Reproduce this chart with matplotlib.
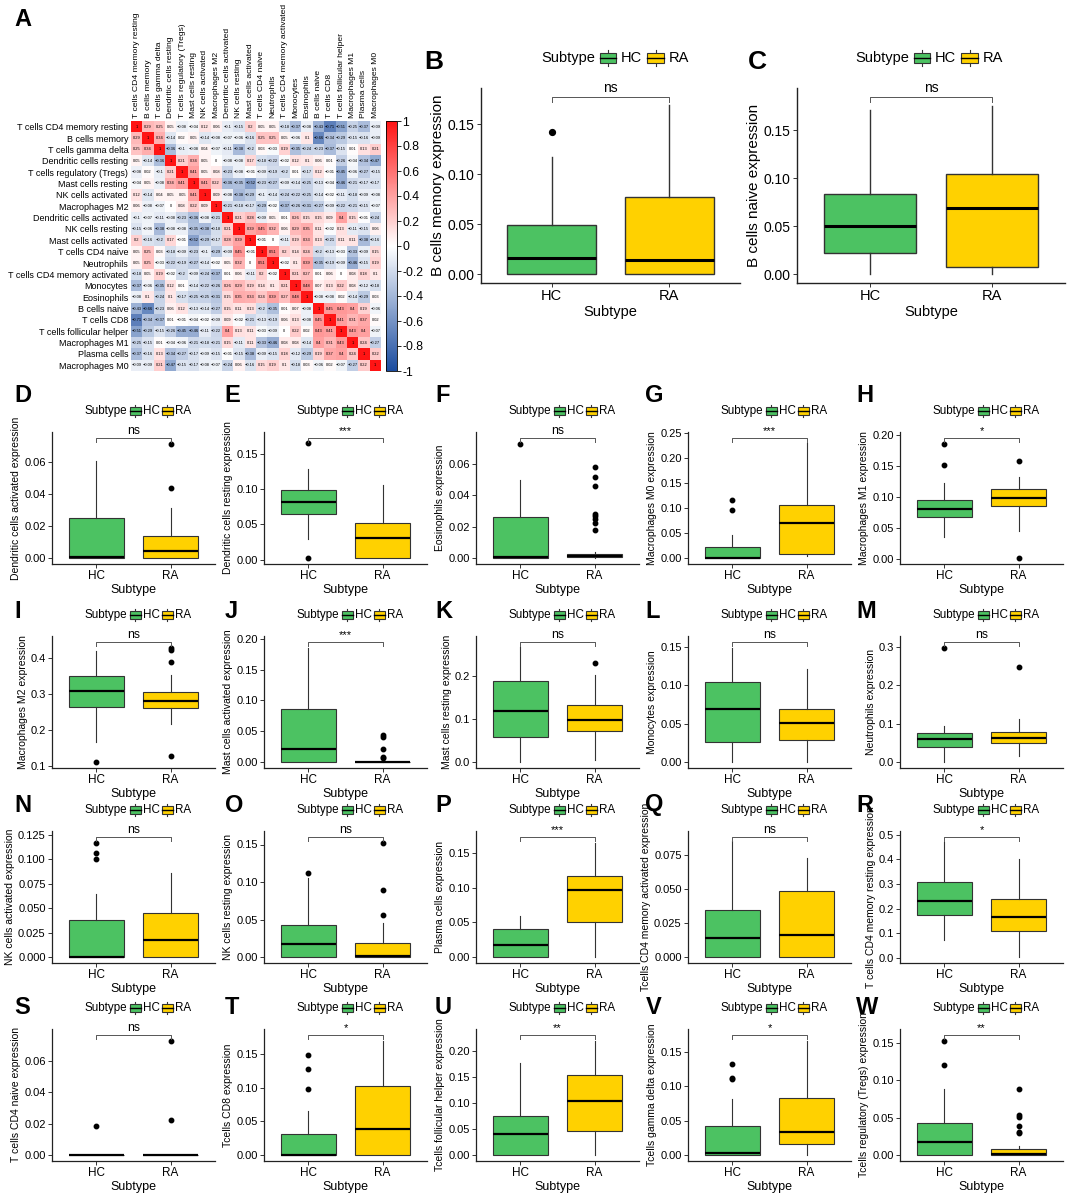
import numpy as np
import matplotlib
matplotlib.use("Agg")
import matplotlib.pyplot as plt
from matplotlib.colors import LinearSegmentedColormap
from matplotlib.offsetbox import HPacker, TextArea, DrawingArea, AnchoredOffsetbox
from matplotlib.patches import Rectangle
from matplotlib.lines import Line2D

plt.rcParams['font.family'] = ['Liberation Sans', 'DejaVu Sans']

# ---------------- data: correlation heatmap (panel A) ----------------
cells = ["T cells CD4 memory resting", "B cells memory", "T cells gamma delta",
         "Dendritic cells resting", "T cells regulatory (Tregs)", "Mast cells resting",
         "NK cells activated", "Macrophages M2", "Dendritic cells activated",
         "NK cells resting", "Mast cells activated", "T cells CD4 naive", "Neutrophils",
         "T cells CD4 memory activated", "Monocytes", "Eosinophils", "B cells naive",
         "T cells CD8", "T cells follicular helper", "Macrophages M1", "Plasma cells",
         "Macrophages M0"]

corr = [
    [1, 0.29, 0.25, 0.05, -0.08, -0.04, 0.12, 0.06, -0.1, -0.15, 0.2, 0.05, 0.05, -0.18, -0.37, -0.08, -0.43, -0.71, -0.51, -0.25, -0.37, -0.09],
    [0.29, 1, 0.34, -0.14, 0.02, 0.05, -0.14, -0.08, -0.07, -0.06, -0.16, 0.25, 0.25, 0.05, -0.06, 0.1, -0.66, -0.34, -0.29, -0.15, -0.16, -0.09],
    [0.25, 0.34, 1, -0.36, -0.1, -0.08, 0.04, -0.07, -0.11, -0.38, -0.2, 0.03, -0.03, 0.19, -0.35, -0.24, -0.23, -0.37, -0.15, 0.01, 0.13, 0.21],
    [0.05, -0.14, -0.36, 1, 0.21, 0.34, 0.05, 0, -0.08, -0.08, 0.17, -0.18, -0.22, -0.02, 0.12, 0.1, 0.06, 0.01, -0.26, -0.04, -0.34, -0.47],
    [-0.08, 0.02, -0.1, 0.21, 1, 0.41, 0.05, 0.08, -0.23, -0.08, -0.01, -0.09, -0.19, -0.2, 0.01, -0.17, 0.12, -0.01, -0.45, -0.06, -0.27, -0.15],
    [-0.04, 0.05, -0.08, 0.34, 0.41, 1, 0.41, 0.22, -0.36, -0.35, -0.52, -0.23, -0.27, -0.09, -0.14, -0.25, -0.13, -0.04, -0.46, -0.21, -0.17, -0.17],
    [0.12, -0.14, 0.04, 0.05, 0.05, 0.41, 1, 0.09, -0.08, -0.38, -0.29, -0.1, -0.14, -0.24, -0.22, -0.25, -0.14, -0.02, -0.11, -0.18, -0.09, -0.08],
    [0.06, -0.08, -0.07, 0, 0.08, 0.22, 0.09, 1, -0.21, -0.18, -0.17, -0.29, -0.02, -0.37, -0.26, -0.31, -0.27, -0.09, -0.22, -0.21, -0.15, -0.07],
    [-0.1, -0.07, -0.11, -0.08, -0.23, -0.36, -0.08, -0.21, 1, 0.21, 0.28, -0.09, 0.05, 0.01, 0.26, 0.15, 0.15, 0.09, 0.4, 0.15, -0.01, -0.24],
    [-0.15, -0.06, -0.38, -0.08, -0.08, -0.35, -0.38, -0.18, 0.21, 1, 0.39, 0.45, 0.32, 0.06, 0.29, 0.35, 0.11, -0.02, 0.13, -0.11, -0.15, 0.06],
    [0.2, -0.16, -0.2, 0.17, -0.01, -0.52, -0.29, -0.17, 0.28, 0.39, 1, -0.01, 0, -0.11, 0.19, 0.33, 0.13, -0.21, 0.11, 0.11, -0.38, -0.16],
    [0.05, 0.25, 0.03, -0.18, -0.09, -0.23, -0.1, -0.29, -0.09, 0.45, -0.01, 1, 0.51, 0.2, 0.14, 0.24, -0.2, -0.13, -0.03, -0.33, -0.09, 0.15],
    [0.05, 0.25, -0.03, -0.22, -0.19, -0.27, -0.14, -0.02, 0.05, 0.32, 0, 0.51, 1, -0.02, 0.1, 0.39, -0.35, -0.19, -0.09, -0.46, -0.15, 0.19],
    [-0.18, 0.05, 0.19, -0.02, -0.2, -0.09, -0.24, -0.37, 0.01, 0.06, -0.11, 0.2, -0.02, 1, 0.21, 0.27, 0.01, 0.06, 0, 0.08, 0.18, 0.1],
    [-0.37, -0.06, -0.35, 0.12, 0.01, -0.14, -0.22, -0.26, 0.26, 0.29, 0.19, 0.14, 0.1, 0.21, 1, 0.48, 0.07, 0.13, 0.22, 0.08, -0.12, -0.18],
    [-0.08, 0.1, -0.24, 0.1, -0.17, -0.25, -0.25, -0.31, 0.15, 0.35, 0.33, 0.24, 0.39, 0.27, 0.48, 1, -0.08, -0.08, 0.02, -0.14, -0.29, 0.03],
    [-0.43, -0.66, -0.23, 0.06, 0.12, -0.13, -0.14, -0.27, 0.15, 0.11, 0.13, -0.2, -0.35, 0.01, 0.07, -0.08, 1, 0.45, 0.43, 0.4, 0.19, -0.06],
    [-0.71, -0.34, -0.37, 0.01, -0.01, -0.04, -0.02, -0.09, 0.09, -0.02, -0.21, -0.13, -0.19, 0.06, 0.13, -0.08, 0.45, 1, 0.41, 0.31, 0.37, 0.02],
    [-0.51, -0.29, -0.15, -0.26, -0.45, -0.46, -0.11, -0.22, 0.4, 0.13, 0.11, -0.03, -0.09, 0, 0.22, 0.02, 0.43, 0.41, 1, 0.43, 0.4, -0.07],
    [-0.25, -0.15, 0.01, -0.04, -0.06, -0.21, -0.18, -0.21, 0.15, -0.11, 0.11, -0.33, -0.46, 0.08, 0.08, -0.14, 0.4, 0.31, 0.43, 1, 0.24, -0.27],
    [-0.37, -0.16, 0.13, -0.34, -0.27, -0.17, -0.09, -0.15, -0.01, -0.15, -0.38, -0.09, -0.15, 0.18, -0.12, -0.29, 0.19, 0.37, 0.4, 0.24, 1, 0.22],
    [-0.09, -0.09, 0.21, -0.47, -0.15, -0.17, -0.08, -0.07, -0.24, 0.06, -0.16, 0.15, 0.19, 0.1, -0.18, 0.03, -0.06, 0.02, -0.07, -0.27, 0.22, 1],
]
cbar_ticks = [-1, -0.8, -0.6, -0.4, -0.2, 0, 0.2, 0.4, 0.6, 0.8, 1]

# ---------------- data: boxplots (panels B-W) ----------------
groups = ["HC", "RA"]
panel_ids = list("BCDEFGHIJKLMNOPQRSTUVW")
ylabels = ["B cells memory expression", "B cells naive expression",
           "Dendritic cells activated expression", "Dendritic cells resting expression",
           "Eosinophils expression", "Macrophages M0 expression", "Macrophages M1 expression",
           "Macrophages M2 expression", "Mast cells activated expression",
           "Mast cells resting expression", "Monocytes expression", "Neutrophils expression",
           "NK cells activated expression", "NK cells resting expression",
           "Plasma cells expression", "Tcells CD4 memory activated expression",
           "T cells CD4 memory resting expression", "T cells CD4 naive expression",
           "Tcells CD8 expression", "Tcells follicular helper expression",
           "Tcells gamma delta expression", "Tcells regulatory (Tregs) expression"]
signif = ["ns", "ns", "ns", "***", "ns", "***", "*", "ns", "***", "ns", "ns",
          "ns", "ns", "ns", "***", "ns", "*", "ns", "*", "**", "*", "**"]

# whislo, q1, median, q3, whishi
hc_stats = [
    [0, 0, 0.016, 0.049, 0.117], [0, 0.022, 0.050, 0.083, 0.171],
    [0, 0, 0.0005, 0.0248, 0.0604], [0.029, 0.065, 0.081, 0.098, 0.1287],
    [0, 0, 0.0005, 0.026, 0.050], [0, 0, 0.001, 0.022, 0.0467],
    [0.0355, 0.068, 0.0796, 0.095, 0.122], [0.168, 0.265, 0.309, 0.348, 0.418],
    [0, 0, 0.021, 0.0865, 0.185], [0, 0.0589, 0.1186, 0.1876, 0.267],
    [0, 0.026, 0.0687, 0.104, 0.149], [0, 0.04, 0.06, 0.0748, 0.093],
    [0, 0, 0.0005, 0.0376, 0.0645], [0, 0, 0.018, 0.043, 0.105],
    [0, 0, 0.0168, 0.040, 0.0587], [0, 0, 0.0137, 0.0345, 0.0854],
    [0.073, 0.176, 0.232, 0.307, 0.469], [0, 0, 0, 0, 0],
    [0, 0, 0.0005, 0.0315, 0.066], [0, 0, 0.040, 0.0743, 0.1765],
    [0, 0, 0.0024, 0.0423, 0.0817], [0, 0, 0.017, 0.0433, 0.089],
]
hc_fliers = [[0.1417], [], [], [0.1646, 0.0024], [0.073], [0.0967, 0.1167],
             [0.151, 0.185], [0.112], [], [], [], [0.298], [0.100, 0.107, 0.117],
             [0.112], [], [], [], [0.0185], [0.098, 0.128, 0.148], [],
             [0.1096, 0.111, 0.1317], [0.1205, 0.153]]
ra_stats = [
    [0, 0, 0.0143, 0.0767, 0.1687], [0, 0.0076, 0.0684, 0.104, 0.1757],
    [0, 0, 0.0041, 0.0139, 0.0314], [0.003, 0.003, 0.030, 0.052, 0.106],
    [0, 0.0004, 0.0013, 0.0028, 0.0036], [0.004, 0.009, 0.070, 0.107, 0.231],
    [0.0446, 0.0844, 0.098, 0.112, 0.132], [0.217, 0.261, 0.281, 0.305, 0.353],
    [0, 0, 0.0003, 0.0008, 0.0012], [0.005, 0.071, 0.097, 0.132, 0.203],
    [0, 0.0287, 0.0509, 0.0687, 0.1217], [0.0157, 0.0487, 0.0635, 0.078, 0.113],
    [0, 0, 0.0178, 0.0447, 0.0857], [0, 0, 0.001, 0.019, 0.0456],
    [0, 0.0505, 0.097, 0.117, 0.164], [0, 0, 0.0166, 0.0484, 0.073],
    [0.005, 0.111, 0.165, 0.240, 0.401], [0, 0, 0, 0, 0],
    [0, 0, 0.039, 0.103, 0.169], [0, 0.0457, 0.103, 0.154, 0.219],
    [0, 0.0154, 0.033, 0.083, 0.165], [0, 0, 0.0015, 0.0085, 0.0115],
]
ra_fliers = [[], [], [0.0434, 0.0707], [],
             [0.0579, 0.0515, 0.046, 0.028, 0.0266, 0.0247, 0.0223, 0.0179], [],
             [0.158, 0.001], [0.427, 0.420, 0.389, 0.128],
             [0.0438, 0.0405, 0.0205, 0.008, 0.0065], [0.231], [], [0.249], [],
             [0.0558, 0.089, 0.152], [], [], [], [0.0225, 0.0724], [], [], [],
             [0.029, 0.031, 0.039, 0.051, 0.054, 0.088]]
bracket_y = [0.1773, 0.1847, 0.0747, 0.172, 0.0766, 0.24, 0.195, 0.443, 0.195, 0.279,
             0.1565, 0.313, 0.123, 0.160, 0.173, 0.0886, 0.49, 0.0762, 0.178, 0.23,
             0.174, 0.161]
yticks = [
    [0, 0.05, 0.10, 0.15], [0, 0.05, 0.10, 0.15], [0, 0.02, 0.04, 0.06],
    [0, 0.05, 0.10, 0.15], [0, 0.02, 0.04, 0.06], [0, 0.05, 0.10, 0.15, 0.20, 0.25],
    [0, 0.05, 0.10, 0.15, 0.20], [0.1, 0.2, 0.3, 0.4], [0, 0.05, 0.10, 0.15, 0.20],
    [0, 0.1, 0.2], [0, 0.05, 0.10, 0.15], [0, 0.1, 0.2, 0.3],
    [0, 0.025, 0.05, 0.075, 0.1, 0.125], [0, 0.05, 0.10, 0.15], [0, 0.05, 0.10, 0.15],
    [0, 0.025, 0.05, 0.075], [0, 0.1, 0.2, 0.3, 0.4, 0.5], [0, 0.02, 0.04, 0.06],
    [0, 0.05, 0.10, 0.15], [0, 0.05, 0.10, 0.15, 0.20], [0, 0.05, 0.10, 0.15],
    [0, 0.05, 0.10, 0.15],
]
ytick_decimals = [2, 2, 2, 2, 2, 2, 2, 1, 2, 1, 2, 1, 3, 2, 2, 3, 1, 2, 2, 2, 2, 2]

GREEN = "#4CC262"
YELLOW = "#FFD100"
EDGE = "#333333"

W, H = 1072, 1193
fig = plt.figure(figsize=(W / 100, H / 100), dpi=100)


def add_ax(left, top, width, height):
    return fig.add_axes([left / W, 1 - (top + height) / H, width / W, height / H])


def letter(x, y, s, size):
    fig.text(x / W, 1 - y / H, s, fontsize=size, fontweight="bold", ha="left", va="center")


def fmt_corr(v):
    if v == 1:
        return "1"
    s = "%.2f" % v
    s = s.rstrip("0").rstrip(".")
    if s in ("-0", ""):
        s = "0"
    return s.replace("-", "\u2212")


# ---------------- panel A ----------------
letter(14, 20, "A", 17)
cmap = LinearSegmentedColormap.from_list("corr", ["#1B4C9F", "#FFFFFF", "#FF1414"])
axA = add_ax(131, 121, 250, 250)
n = len(cells)
im = axA.imshow(np.array(corr), cmap=cmap, vmin=-1, vmax=1, aspect="auto",
                interpolation="nearest")
for i in range(n):
    for j in range(n):
        axA.text(j, i, fmt_corr(corr[i][j]), ha="center", va="center", fontsize=2.9)
axA.set_yticks(range(n))
axA.set_yticklabels(cells, fontsize=6.5)
axA.set_xticks(range(n))
axA.set_xticklabels(cells, rotation=90, fontsize=6.1)
axA.tick_params(axis="x", top=True, labeltop=True, bottom=False, labelbottom=False)
axA.tick_params(length=0, pad=2)
for s in axA.spines.values():
    s.set_visible(False)

cax = add_ax(386, 121, 11, 250)
cb = fig.colorbar(im, cax=cax, ticks=cbar_ticks)
cb.ax.set_yticklabels([("%g" % t) for t in cbar_ticks], fontsize=8.8)
cb.ax.tick_params(length=3, width=0.6, pad=1)
cb.outline.set_linewidth(0.6)


# ---------------- boxplot helpers ----------------
def legend_key(color, w, h):
    da = DrawingArea(w, h, 0, 0)
    da.add_artist(Line2D([w / 2, w / 2], [0, h], color=EDGE, lw=0.8))
    da.add_artist(Rectangle((0.5, h * 0.18), w - 1, h * 0.64, fc=color, ec=EDGE, lw=0.8))
    da.add_artist(Line2D([0.5, w - 0.5], [h / 2, h / 2], color="black", lw=1.0))
    return da


def draw_legend(ax, cx, cy, fs, kw, kh, sep):
    kids = [TextArea("Subtype", textprops=dict(size=fs)), legend_key(GREEN, kw, kh),
            TextArea(groups[0], textprops=dict(size=fs)), legend_key(YELLOW, kw, kh),
            TextArea(groups[1], textprops=dict(size=fs))]
    pack = HPacker(children=kids, align="center", pad=0, sep=sep)
    box = AnchoredOffsetbox(loc="center", child=pack, pad=0, borderpad=0, frameon=False,
                            bbox_to_anchor=(cx / W, 1 - cy / H),
                            bbox_transform=fig.transFigure)
    box.set_clip_on(False)
    ax.add_artist(box)


def box_panel(ax, k, big):
    stats = []
    for s, fl in ((hc_stats[k], hc_fliers[k]), (ra_stats[k], ra_fliers[k])):
        stats.append(dict(whislo=s[0], q1=s[1], med=s[2], q3=s[3], whishi=s[4], fliers=fl))
    lw = 1.0 if big else 0.8
    res = ax.bxp(stats, positions=[1, 2], widths=0.75, patch_artist=True, showcaps=False,
                 boxprops=dict(edgecolor=EDGE, linewidth=lw),
                 whiskerprops=dict(color=EDGE, linewidth=lw),
                 medianprops=dict(color="black", linewidth=2.2 if big else 1.6),
                 flierprops=dict(marker="o", markerfacecolor="black", markeredgecolor="black",
                                 markersize=4.2 if big else 3.2, linestyle="none"))
    for patch, c in zip(res["boxes"], (GREEN, YELLOW)):
        patch.set_facecolor(c)

    vals = hc_stats[k] + ra_stats[k] + hc_fliers[k] + ra_fliers[k]
    lo = min(vals)
    hi = bracket_y[k]
    r = hi - lo
    ax.set_ylim(lo - 0.05 * r, hi + 0.05 * r)
    ax.set_xlim(0.4, 2.6)

    # significance bracket
    tip = 0.03 * r
    ax.plot([1, 1, 2, 2], [hi - tip, hi, hi, hi - tip], color="#555555", lw=0.7,
            clip_on=False)
    sig_fs = 10 if big else (8.8 if signif[k] == "ns" else 8)
    ax.text(1.5, hi + 0.012 * r, signif[k], ha="center", va="bottom", fontsize=sig_fs,
            clip_on=False)

    tick_fs = 10 if big else 8
    ax.set_yticks(yticks[k])
    ax.set_yticklabels([("%." + str(ytick_decimals[k]) + "f") % t for t in yticks[k]],
                       fontsize=tick_fs)
    ax.set_xticks([1, 2])
    ax.set_xticklabels(groups, fontsize=10.5 if big else 8.5)
    ax.set_xlabel("Subtype", fontsize=10.5 if big else 9, labelpad=1)
    ax.set_ylabel(ylabels[k], fontsize=11 if big else 7.5, labelpad=2)
    for side in ("top", "right"):
        ax.spines[side].set_visible(False)
    for side in ("left", "bottom"):
        ax.spines[side].set_linewidth(1.0 if big else 0.9)
        ax.spines[side].set_color("#222222")
    ax.tick_params(length=3, width=0.7, color="#333333", pad=1.5)


# ---------------- panels B and C ----------------
big_layout = [(481, 259, 424, 615), (797, 268, 748, 929)]  # axes left, width, letter x, legend x
for k, (left, width, lx, gx) in enumerate(big_layout):
    ax = add_ax(left, 88, width, 195)
    box_panel(ax, k, True)
    letter(lx, 62, panel_ids[k], 19)
    draw_legend(ax, gx, 58, 10.5, 13, 12, 3)

# ---------------- panels D-W ----------------
row_top = [432, 636, 831, 1029]
row_letter_y = [396, 611, 805, 1008]
for idx in range(2, len(panel_ids)):
    p = idx - 2
    row, col = divmod(p, 5)
    left = 52 + col * 212
    top = row_top[row]
    ax = add_ax(left, top, 163, 132)
    box_panel(ax, idx, False)
    letter(14 + col * 210.5, row_letter_y[row], panel_ids[idx], 17)
    draw_legend(ax, left + 86, top - 21, 8.4, 9, 9, 1)

fig.savefig("out.png", dpi=100)
